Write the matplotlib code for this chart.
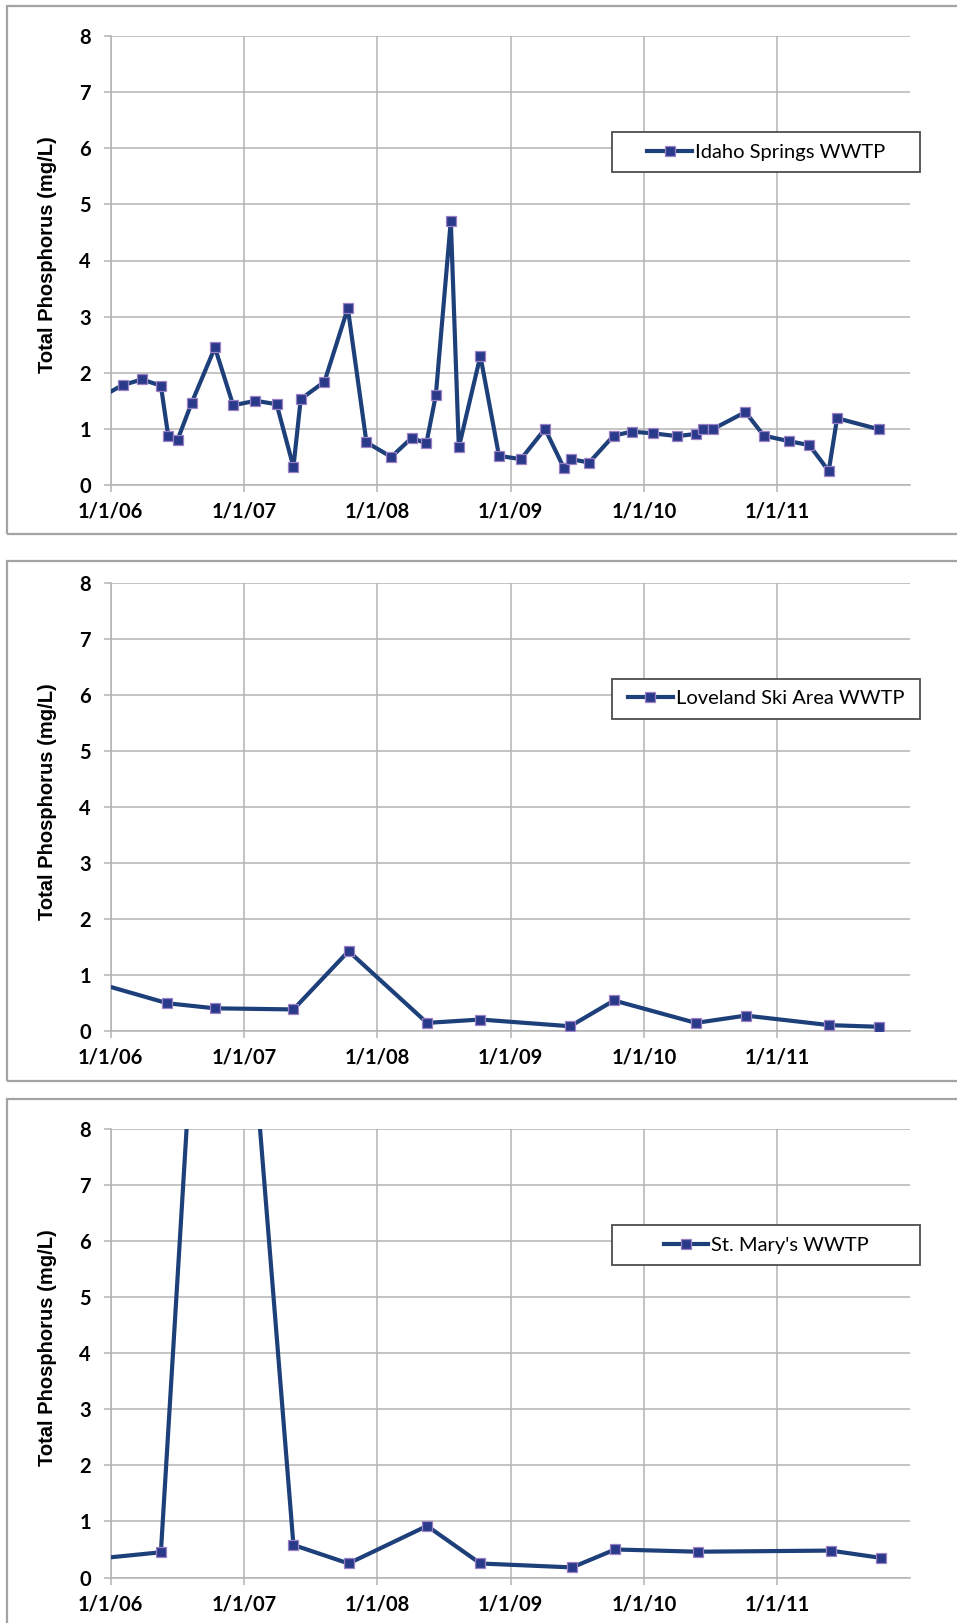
import matplotlib
matplotlib.use("Agg")
import matplotlib.pyplot as plt
import matplotlib.dates as mdates
from matplotlib.patches import Rectangle
from matplotlib.lines import Line2D
import pandas as pd

# ---------------- data ----------------
idaho_dates = ["2005-12-01", "2006-02-03", "2006-03-28", "2006-05-19", "2006-06-08", "2006-07-04",
               "2006-08-11", "2006-10-14", "2006-12-03", "2007-02-02", "2007-04-01", "2007-05-17",
               "2007-06-06", "2007-08-10", "2007-10-13", "2007-12-03", "2008-02-09", "2008-04-05",
               "2008-05-15", "2008-06-10", "2008-07-21", "2008-08-12", "2008-10-10", "2008-11-30",
               "2009-01-29", "2009-04-05", "2009-05-27", "2009-06-16", "2009-08-04", "2009-10-10",
               "2009-11-29", "2010-01-27", "2010-04-02", "2010-05-23", "2010-06-13", "2010-07-10",
               "2010-10-06", "2010-11-25", "2011-02-03", "2011-03-30", "2011-05-22", "2011-06-14",
               "2011-10-08"]
idaho_tp = [1.55, 1.78, 1.88, 1.77, 0.88, 0.81,
            1.46, 2.45, 1.42, 1.50, 1.44, 0.32,
            1.53, 1.84, 3.15, 0.76, 0.50, 0.84,
            0.74, 1.60, 4.71, 0.67, 2.30, 0.52,
            0.46, 1.00, 0.30, 0.46, 0.40, 0.88,
            0.95, 0.92, 0.87, 0.91, 1.00, 1.00,
            1.30, 0.88, 0.78, 0.71, 0.25, 1.19,
            0.99]

loveland_dates = ["2005-12-01", "2006-06-06", "2006-10-14", "2007-05-17", "2007-10-15", "2008-05-17",
                  "2008-10-10", "2009-06-13", "2009-10-11", "2010-05-23", "2010-10-07", "2011-05-24",
                  "2011-10-08"]
loveland_tp = [0.85, 0.50, 0.41, 0.39, 1.43, 0.15,
               0.21, 0.09, 0.55, 0.15, 0.28, 0.11,
               0.08]

stmary_dates = ["2005-12-01", "2006-05-19", "2006-10-23", "2007-05-17", "2007-10-15", "2008-05-17",
                "2008-10-10", "2009-06-18", "2009-10-14", "2010-05-28", "2011-05-27", "2011-10-12"]
stmary_tp = [0.34, 0.45, 17.3, 0.58, 0.25, 0.92,
             0.25, 0.18, 0.50, 0.46, 0.48, 0.35]

series_names = ["Idaho Springs WWTP", "Loveland Ski Area WWTP", "St. Mary's WWTP"]
tick_dates = ["2006-01-01", "2007-01-01", "2008-01-01", "2009-01-01", "2010-01-01", "2011-01-01"]
tick_labels = ["1/1/06", "1/1/07", "1/1/08", "1/1/09", "1/1/10", "1/1/11"]
y_ticks = [0, 1, 2, 3, 4, 5, 6, 7, 8]
y_label = "Total Phosphorus (mg/L)"

# ---------------- style ----------------
W, H = 957, 1623
LINE_C = "#1d3f7a"
MFC = "#2a3a8a"
MEC = "#9a80c4"
GRID_C = "#b4b4b4"
FRAME_C = "#a3a3a3"

fig = plt.figure(figsize=(W / 100, H / 100), dpi=100)
fig.patch.set_facecolor("white")

def fig_rect(x0, y0, x1, y1):
    return [x0 / W, 1 - y1 / H, (x1 - x0) / W, (y1 - y0) / H]

# axes pixel boxes (left, top, right, bottom)
ax_boxes = [(110.5, 36.0, 910.5, 485.0),
            (110.5, 582.8, 910.5, 1031.3),
            (110.5, 1129.0, 910.5, 1577.5)]
frames = [(6.7, 5.7, 975, 533.7),
          (6.7, 561.0, 975, 1080.7),
          (6.7, 1099.3, 975, 1650)]

for (fx0, fy0, fx1, fy1) in frames:
    r = fig_rect(fx0, fy0, fx1, fy1)
    fig.add_artist(Rectangle((r[0], r[1]), r[2], r[3], transform=fig.transFigure,
                             fill=False, ec=FRAME_C, lw=1.6, zorder=0))

all_dates = [idaho_dates, loveland_dates, stmary_dates]
all_vals = [idaho_tp, loveland_tp, stmary_tp]

tick_dt = pd.to_datetime(tick_dates)

for i, box in enumerate(ax_boxes):
    ax = fig.add_axes(fig_rect(*box))
    d = pd.to_datetime(all_dates[i])
    ax.plot(d, all_vals[i], color=LINE_C, lw=3.0, marker="s", ms=6.5,
            mfc=MFC, mec=MEC, mew=0.9, zorder=3)
    ax.set_xlim(pd.Timestamp("2006-01-01"), pd.Timestamp("2012-01-01"))
    ax.set_ylim(0, 8)
    ax.set_xticks(tick_dt)
    ax.set_xticklabels(tick_labels)
    ax.set_yticks(y_ticks)
    ax.set_yticklabels([str(v) for v in y_ticks])
    ax.grid(True, color=GRID_C, lw=1.1)
    ax.set_axisbelow(True)
    for s in ["top", "right"]:
        ax.spines[s].set_visible(False)
    for s in ["left", "bottom"]:
        ax.spines[s].set_color(GRID_C)
        ax.spines[s].set_linewidth(1.1)
    ax.tick_params(axis="both", direction="out", length=5, width=1.1, color=GRID_C,
                   labelcolor="black")
    ax.tick_params(axis="y", pad=9)
    ax.tick_params(axis="x", pad=7)
    for lab in ax.get_xticklabels() + ax.get_yticklabels():
        lab.set_fontfamily("Lato")
        lab.set_fontweight("bold")
        lab.set_fontsize(14.5)
    ax.set_ylabel(y_label, fontfamily="Liberation Sans", fontweight="bold", fontsize=14.5)
    ax.yaxis.label.set_va("center")
    ax.yaxis.set_label_coords(-0.079, 0.513)

    # legend box
    lx0, lx1, ly0, ly1 = 0.6273, 1.0119, 0.6964, 0.7862
    ax.add_patch(Rectangle((lx0, ly0), lx1 - lx0, ly1 - ly0, transform=ax.transAxes,
                           fill=True, fc="white", ec="#4d4d4d", lw=1.3, clip_on=False, zorder=5))
    handle = Line2D([], [], color=LINE_C, lw=3.0, marker="s", ms=6.5, mfc=MFC, mec=MEC, mew=0.9)
    leg = ax.legend([handle], [series_names[i]], loc="center",
                    bbox_to_anchor=((lx0 + lx1) / 2, (ly0 + ly1) / 2), frameon=False,
                    prop={"family": "Lato", "size": 14.5}, handlelength=2.2,
                    handletextpad=0.15, borderpad=0.0)
    leg.set_zorder(6)

fig.savefig("out.png", dpi=100, facecolor="white")
